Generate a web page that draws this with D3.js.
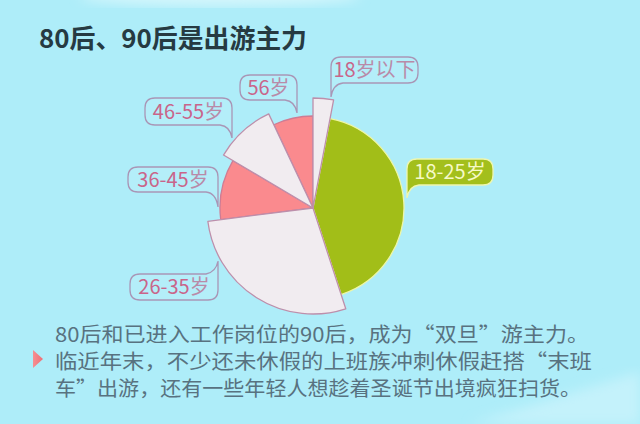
<!DOCTYPE html>
<html>
<head>
<meta charset="utf-8">
<script src="https://cdn.jsdelivr.net/npm/d3@7"></script>
<style>
  html, body { margin: 0; padding: 0; background: #aeedf9; }
  svg { display: block; font-family: "Noto Sans CJK SC", "Noto Sans", sans-serif; }
</style>
</head>
<body>
<div id="chart"></div>
<script>
// Data (share of travellers, %)
const categories = ["18岁以下", "18-25岁", "26-35岁", "36-45岁", "46-55岁", "56岁"];
const shares = [3, 42, 28, 10.5, 9.5, 7];
const title = "80后、90后是出游主力";
const bodyLines = [
  "80后和已进入工作岗位的90后，成为“双旦”游主力。",
  "临近年末，不少还未休假的上班族冲刺休假赶搭“末班",
  "车”出游，还有一些年轻人想趁着圣诞节出境疯狂扫货。"
];

const width = 640;
const height = 424;
const cx = 313, cy = 208;

const svg = d3.select("#chart")
  .append("svg")
  .attr("width", width)
  .attr("height", height);

// Background + soft highlights
const defs = svg.append("defs");
defs.append("filter").attr("id", "blur")
  .append("feGaussianBlur").attr("stdDeviation", 6);
const tri = defs.append("linearGradient").attr("id", "tri")
  .attr("x1", 0).attr("x2", 1).attr("y1", 0).attr("y2", 0);
tri.append("stop").attr("offset", "0%").attr("stop-color", "#f58f92");
tri.append("stop").attr("offset", "100%").attr("stop-color", "#ee6f76");

svg.append("rect").attr("width", width).attr("height", height).attr("fill", "#aeedf9");
svg.append("ellipse")
  .attr("cx", 220).attr("cy", -4).attr("rx", 140).attr("ry", 10)
  .attr("fill", "#d4f6fc").attr("filter", "url(#blur)");
svg.append("path")
  .attr("d", "M470,424 L640,372 L640,424 Z")
  .attr("fill", "#c4f2fb").attr("filter", "url(#blur)");

// Title
svg.append("text")
  .attr("x", 39)
  .attr("y", 48)
  .attr("font-size", 26)
  .attr("font-weight", "bold")
  .attr("fill", "#263a42")
  .attr("textLength", 268)
  .attr("lengthAdjust", "spacingAndGlyphs")
  .text(title);

// Pie
const pie = d3.pie().sort(null).value(d => d)(shares);

// white slices pop out, coloured ones sit inside
const radius = d3.scaleOrdinal().domain(categories).range([110, 91, 106, 93, 104, 92]);
const fill = d3.scaleOrdinal().domain(categories)
  .range(["#f1ecf0", "#a2be18", "#f1ecf0", "#fa8a8e", "#f1ecf0", "#fa8a8e"]);
const stroke = d3.scaleOrdinal().domain(categories)
  .range(["#bd8fab", "#eef6a6", "#bd8fab", "#cf7b93", "#bd8fab", "#cf7b93"]);

const arc = d3.arc()
  .innerRadius(0)
  .outerRadius(d => radius(categories[d.index]));

const g = svg.append("g").attr("transform", `translate(${cx},${cy})`);

// draw big white slices last so their edges sit on top
const order = [1, 3, 5, 0, 2, 4];
g.selectAll("path.slice")
  .data(order.map(i => pie[i]))
  .join("path")
  .attr("class", "slice")
  .attr("d", arc)
  .attr("fill", d => fill(categories[d.index]))
  .attr("stroke", d => stroke(categories[d.index]))
  .attr("stroke-width", 1.3)
  .attr("stroke-linejoin", "round");

// Callout bubbles: box x, y, w, h, tail side, tail length
const callouts = {
  "18岁以下": [331, 57, 87, 26, "bl", 14],
  "18-25岁": [407, 159, 86, 26, "bl", 13],
  "26-35岁": [130, 274, 88, 26, "tr", 13],
  "36-45岁": [128, 167, 90, 25, "br", 15],
  "46-55岁": [145, 98, 87, 27, "br", 13],
  "56岁": [240, 75, 57, 25, "br", 13]
};

function bubble([x, y, w, h, side, len]) {
  const r = 10;
  const p = d3.path();
  p.moveTo(x + r, y);
  if (side === "tr") {
    p.lineTo(x + w - 12, y);
    p.quadraticCurveTo(x + w - 2, y - 2, x + w, y - len);
    p.lineTo(x + w, y + h - r);
  } else {
    p.lineTo(x + w - r, y);
    p.quadraticCurveTo(x + w, y, x + w, y + r);
  }
  if (side === "br") {
    p.lineTo(x + w, y + h + len);
    p.quadraticCurveTo(x + w - 2, y + h + 1, x + w - 12, y + h);
  } else if (side !== "tr") {
    p.lineTo(x + w, y + h - r);
    p.quadraticCurveTo(x + w, y + h, x + w - r, y + h);
  } else {
    p.quadraticCurveTo(x + w, y + h, x + w - r, y + h);
  }
  if (side === "bl") {
    p.lineTo(x + 12, y + h);
    p.quadraticCurveTo(x + 2, y + h + 1, x, y + h + len);
    p.lineTo(x, y + r);
  } else {
    p.lineTo(x + r, y + h);
    p.quadraticCurveTo(x, y + h, x, y + h - r);
    p.lineTo(x, y + r);
  }
  p.quadraticCurveTo(x, y, x + r, y);
  p.closePath();
  return p.toString();
}

const labels = svg.append("g")
  .selectAll("g")
  .data(categories)
  .join("g");

labels.append("path")
  .attr("d", d => bubble(callouts[d]))
  .attr("fill", d => d === "18-25岁" ? "#a3bf1c" : "rgba(255,255,255,0.08)")
  .attr("stroke", d => d === "18-25岁" ? "#eef6b0" : "#a996b6")
  .attr("stroke-width", 1.3);

const labelText = labels.append("text")
  .attr("x", d => callouts[d][0] + callouts[d][2] / 2)
  .attr("y", d => callouts[d][1] + callouts[d][3] / 2 + 7)
  .attr("text-anchor", "middle")
  .attr("font-size", 20);

labelText.selectAll("tspan")
  .data(d => d.match(/[0-9\-]+|[^0-9\-]+/g).map(part => ({ part, cat: d })))
  .join("tspan")
  .attr("fill", d => d.cat === "18-25岁" ? "#f6f9c6"
    : (/[0-9]/.test(d.part) ? "#c9658a" : "#b98aa8"))
  .text(d => d.part);

// Body text (one text block, one tspan per line)
const lineWidths = [534, 537, 526];
svg.append("path")
  .attr("d", "M33,350 L43,359 L33,368 Z")
  .attr("fill", "url(#tri)");

svg.append("text")
  .attr("class", "body")
  .attr("font-size", 20)
  .attr("fill", "#587280")
  .selectAll("tspan")
  .data(bodyLines)
  .join("tspan")
  .attr("x", 55)
  .attr("y", (d, i) => 342 + i * 27)
  .attr("textLength", (d, i) => lineWidths[i])
  .attr("lengthAdjust", "spacingAndGlyphs")
  .text(d => d);
</script>
</body>
</html>
